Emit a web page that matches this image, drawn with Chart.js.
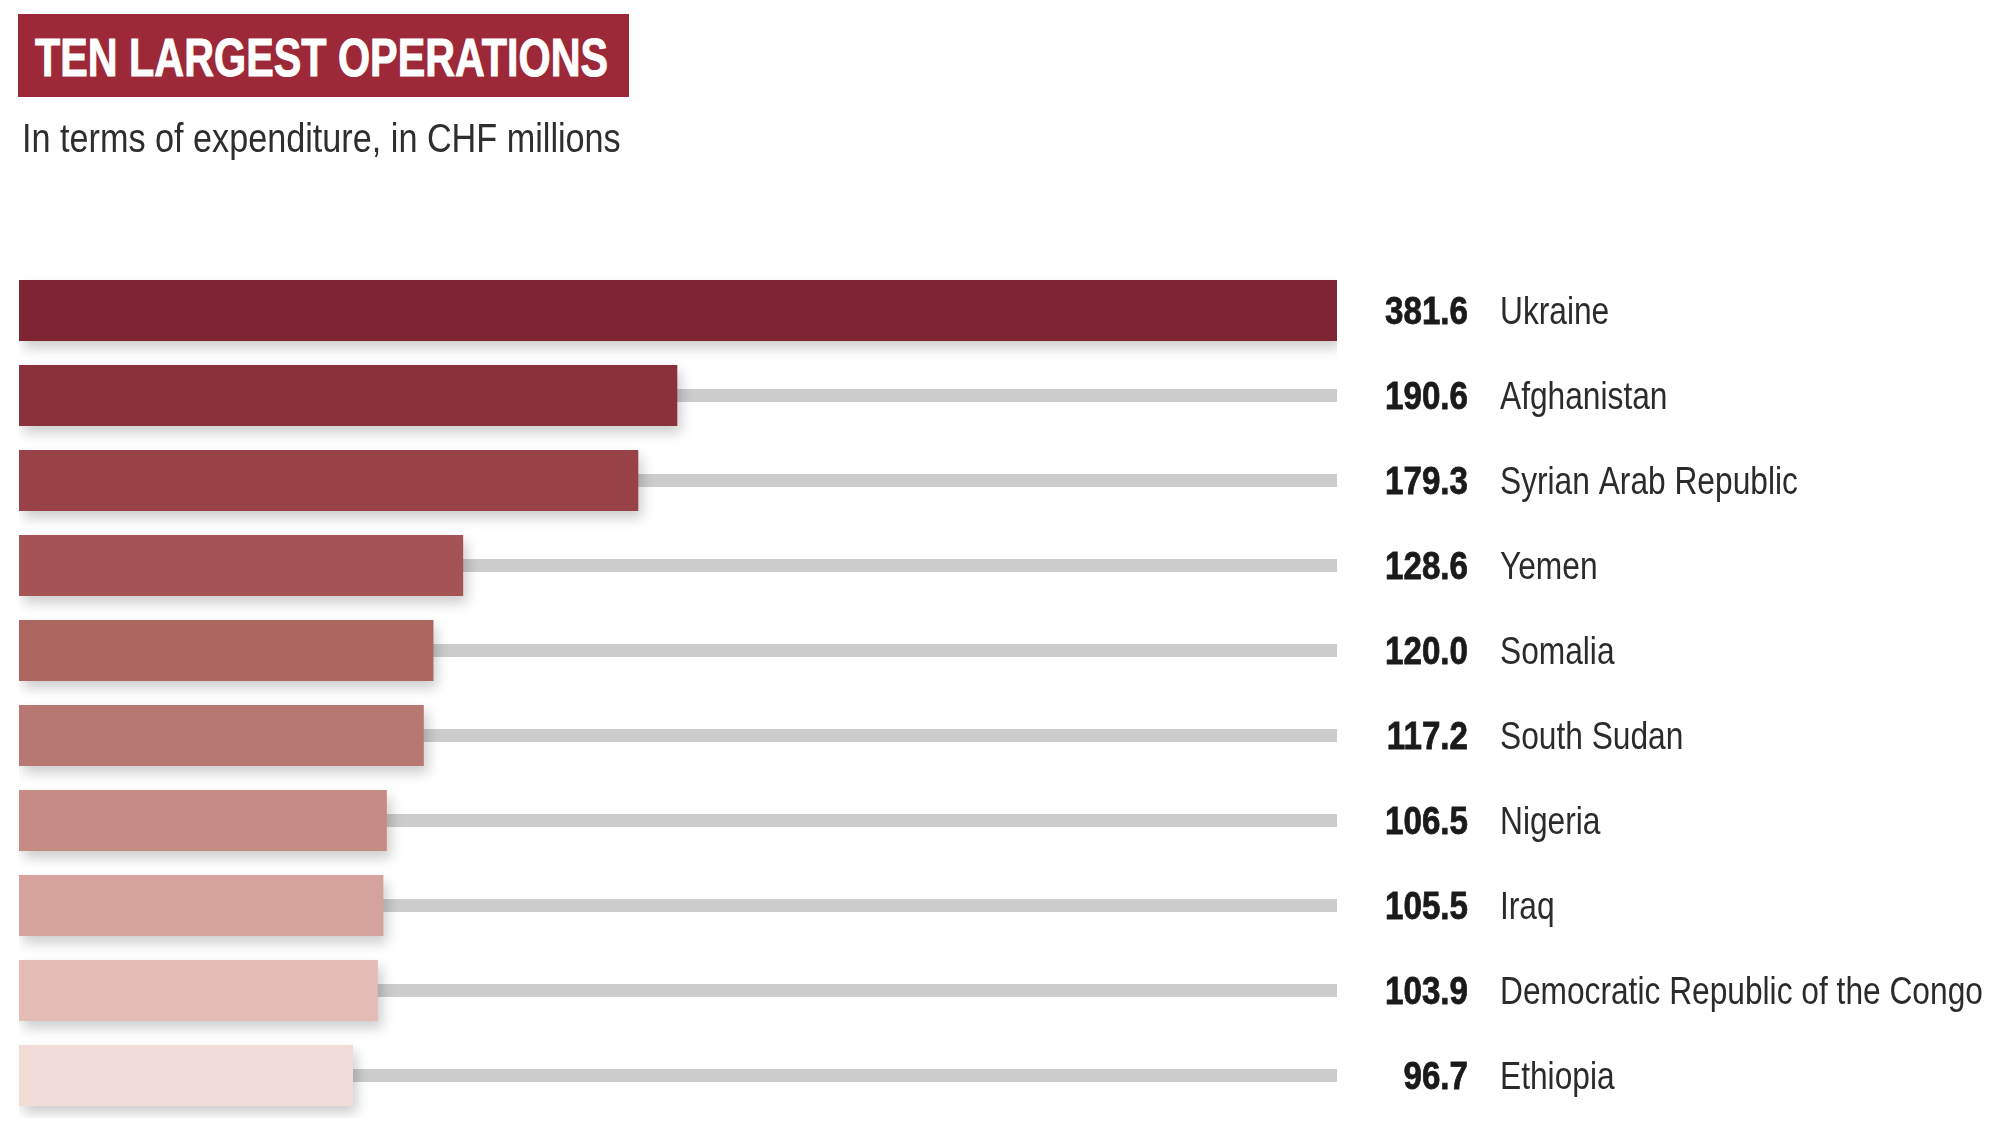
<!DOCTYPE html>
<html>
<head>
<meta charset="utf-8">
<script src="https://cdn.jsdelivr.net/npm/chart.js@4"></script>
<style>
    html, body { margin: 0; padding: 0; background: #fff; }
    #page { position: relative; width: 2000px; height: 1143px; overflow: hidden; }
    #titleBox {
        position: absolute; left: 18px; top: 14px; width: 611px; height: 83px;
        background: #9c2838;
    }
    #titleBox span {
        position: absolute; left: 17px; top: 16px; white-space: nowrap;
        color: #fff; font: bold 54px/54px "Liberation Sans", Arial, sans-serif;
        -webkit-text-stroke: 1px #fff;
        transform: scaleX(0.765); transform-origin: left center;
    }
    #subtitle {
        position: absolute; left: 22px; top: 118px; white-space: nowrap; color: #2e2e2e;
        font: 40px/40px "Liberation Sans", Arial, sans-serif;
        transform: scaleX(0.855); transform-origin: left center;
    }
    #chartBox { position: absolute; left: 0; top: 0; width: 2000px; height: 1143px; }
</style>
</head>
<body>
<div id="page">
    <div id="chartBox"><canvas id="chart"></canvas></div>
    <div id="titleBox"><span>TEN LARGEST OPERATIONS</span></div>
    <div id="subtitle">In terms of expenditure, in CHF millions</div>
</div>
<script>
// ülkeler ve harcamalar (CHF milyon)
const countries = ['Ukraine', 'Afghanistan', 'Syrian Arab Republic', 'Yemen', 'Somalia',
    'South Sudan', 'Nigeria', 'Iraq', 'Democratic Republic of the Congo', 'Ethiopia'];
const expenditure = [381.6, 190.6, 179.3, 128.6, 120.0, 117.2, 106.5, 105.5, 103.9, 96.7];
const valueLabels = ['381.6', '190.6', '179.3', '128.6', '120.0', '117.2', '106.5', '105.5', '103.9', '96.7'];

// koyu kırmızıdan açık pembeye
const barColors = ['#7f2432', '#8a313b', '#984248', '#a45454', '#ae6661',
    '#b87872', '#c68b84', '#d5a39c', '#e4bcb6', '#f2dcd8'];

// gri arka çizgi (track)
const trackPlugin = {
    id: 'track',
    beforeDatasetsDraw(chart) {
        const { ctx, chartArea } = chart;
        const meta = chart.getDatasetMeta(0);
        ctx.save();
        ctx.fillStyle = '#cccccc';
        meta.data.forEach(bar => {
            ctx.fillRect(chartArea.left, bar.y - 6.5, chartArea.right - chartArea.left, 13);
        });
        ctx.restore();
    }
};

// çubuklara hafif gölge
const shadowPlugin = {
    id: 'barShadow',
    beforeDatasetDraw(chart) {
        const ctx = chart.ctx;
        ctx.save();
        ctx.shadowColor = 'rgba(0, 0, 0, 0.2)';
        ctx.shadowBlur = 12;
        ctx.shadowOffsetX = 4;
        ctx.shadowOffsetY = 7;
    },
    afterDatasetDraw(chart) {
        chart.ctx.restore();
    }
};

// dar yazı: yatayda sıkıştırılmış metin
function narrowText(ctx, text, x, y, scale, align, stroke) {
    const w = ctx.measureText(text).width * scale;
    ctx.save();
    ctx.translate(align === 'right' ? x - w : x, y);
    ctx.scale(scale, 1);
    ctx.textAlign = 'left';
    ctx.fillText(text, 0, 0);
    if (stroke) {
        ctx.strokeStyle = ctx.fillStyle;
        ctx.lineWidth = stroke;
        ctx.strokeText(text, 0, 0);
    }
    ctx.restore();
}

// sağdaki değer ve ülke isimleri
const labelPlugin = {
    id: 'rightLabels',
    afterDatasetsDraw(chart) {
        const { ctx, chartArea } = chart;
        const meta = chart.getDatasetMeta(0);
        ctx.save();
        ctx.textBaseline = 'alphabetic';
        meta.data.forEach((bar, i) => {
            const base = bar.y + 13.5;
            ctx.font = 'bold 39px "Liberation Sans", Arial, sans-serif';
            ctx.fillStyle = '#1a1a1a';
            narrowText(ctx, valueLabels[i], chartArea.right + 131, base, 0.85, 'right', 0.8);
            ctx.font = '39px "Liberation Sans", Arial, sans-serif';
            ctx.fillStyle = '#2b2b2b';
            narrowText(ctx, countries[i], chartArea.right + 163, base, 0.813, 'left', 0);
        });
        ctx.restore();
    }
};

new Chart(document.getElementById('chart'), {
    type: 'bar',
    data: {
        labels: countries,
        datasets: [{
            data: expenditure,
            backgroundColor: barColors,
            borderWidth: 0,
            barPercentage: 0.72,
            categoryPercentage: 1.0
        }]
    },
    options: {
        indexAxis: 'y',
        responsive: true,
        maintainAspectRatio: false,
        animation: false,
        layout: { padding: { left: 19, top: 268, right: 663, bottom: 25 } },
        scales: {
            x: { display: false, min: 0, max: Math.max(...expenditure) },
            y: { display: false }
        },
        plugins: {
            legend: { display: false },
            tooltip: { enabled: false }
        }
    },
    plugins: [trackPlugin, shadowPlugin, labelPlugin]
});
</script>
</body>
</html>
